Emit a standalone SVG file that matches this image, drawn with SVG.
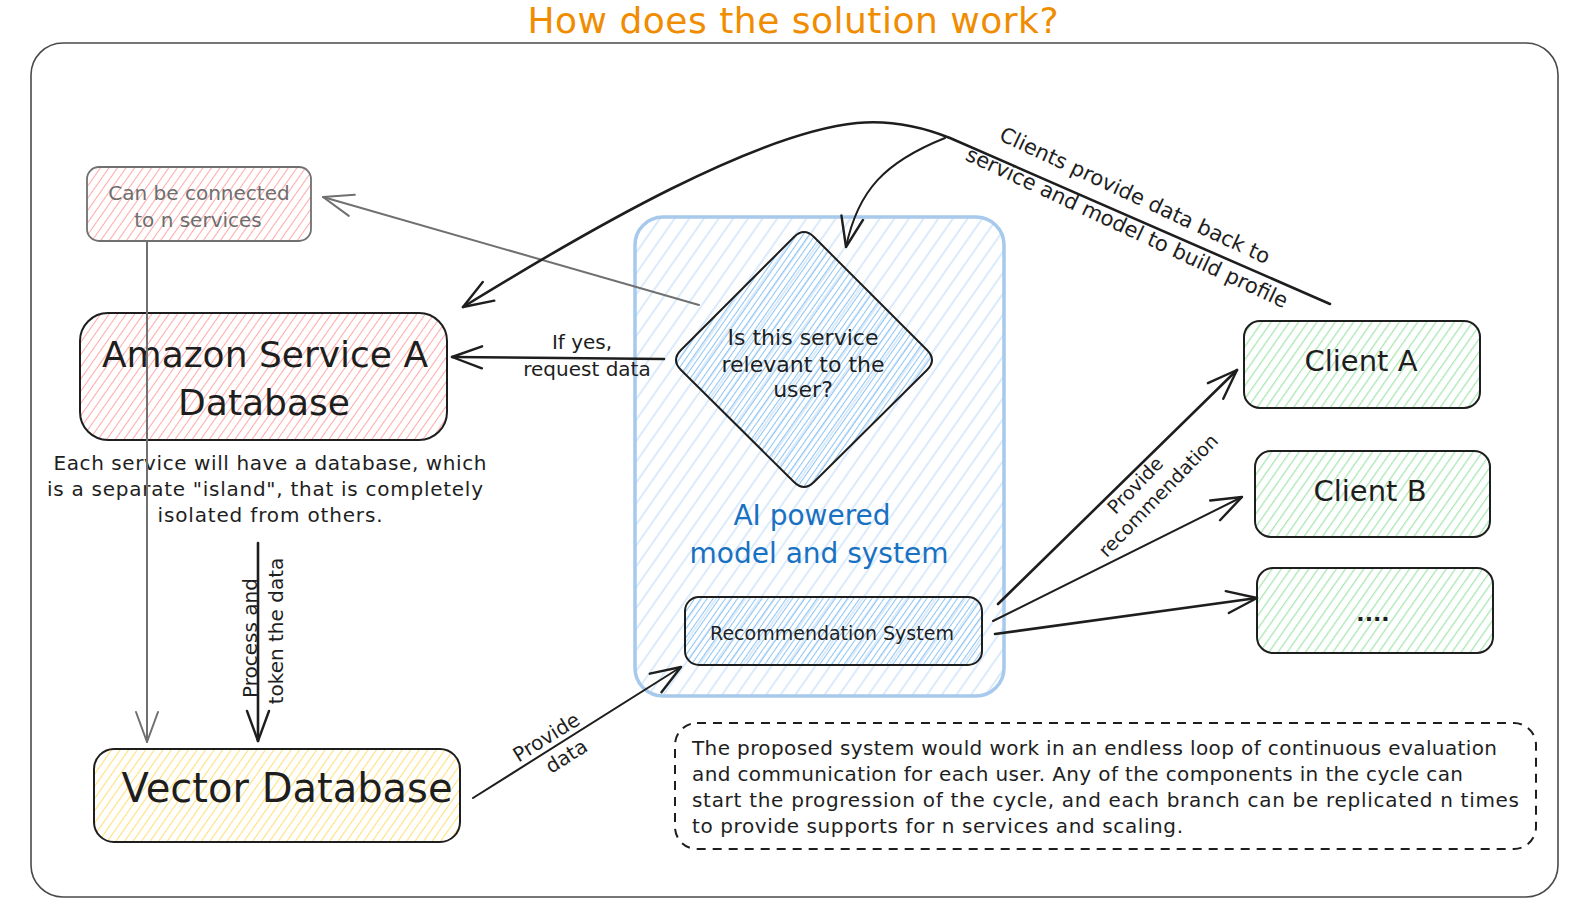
<svg xmlns="http://www.w3.org/2000/svg" width="1584" height="916" viewBox="0 0 1584 916">
<defs>
<style>
.t{font-family:"DejaVu Sans","Liberation Sans",sans-serif;fill:#1e1e1e}
.m{text-anchor:middle}
.title{fill:#f08c00}
.blue{fill:#1971c2}
.grayt{fill:#6e6e6e}
.box{stroke:#1e1e1e;stroke-width:2}
.conn{fill:none;stroke:#1e1e1e;stroke-width:2.6;stroke-linecap:round;stroke-linejoin:round}
.thin{stroke-width:2}
.gconn{fill:none;stroke:#707070;stroke-width:2;stroke-linecap:round}
</style>
<pattern id="hRed" patternUnits="userSpaceOnUse" width="7" height="10" patternTransform="rotate(35)"><line x1="3.5" y1="0" x2="3.5" y2="10" stroke="#ffabab" stroke-width="1.1"/></pattern>
<pattern id="hYel" patternUnits="userSpaceOnUse" width="7" height="10" patternTransform="rotate(35)"><line x1="3.5" y1="0" x2="3.5" y2="10" stroke="#ffe07a" stroke-width="1.1"/></pattern>
<pattern id="hGrn" patternUnits="userSpaceOnUse" width="7.5" height="10" patternTransform="rotate(35)"><line x1="3.5" y1="0" x2="3.5" y2="10" stroke="#9ae3a6" stroke-width="1.1"/></pattern>
<pattern id="hBlueL" patternUnits="userSpaceOnUse" width="12" height="10" patternTransform="rotate(35)"><line x1="6" y1="0" x2="6" y2="10" stroke="#bcdaf7" stroke-width="1.1"/></pattern>
<pattern id="hBlueD" patternUnits="userSpaceOnUse" width="5" height="10" patternTransform="rotate(35)"><line x1="2.5" y1="0" x2="2.5" y2="10" stroke="#8fc5f2" stroke-width="1"/></pattern>
<marker id="ah" viewBox="-34 -14 38 28" refX="0" refY="0" markerWidth="38" markerHeight="28" markerUnits="userSpaceOnUse" orient="auto"><path d="M-30,-11 L0,0 L-30,11" fill="none" stroke="#1e1e1e" stroke-width="2.4" stroke-linecap="round" stroke-linejoin="round"/></marker>
<marker id="ahg" viewBox="-34 -14 38 28" refX="0" refY="0" markerWidth="38" markerHeight="28" markerUnits="userSpaceOnUse" orient="auto"><path d="M-30,-11 L0,0 L-30,11" fill="none" stroke="#707070" stroke-width="2" stroke-linecap="round" stroke-linejoin="round"/></marker>
</defs>
<rect x="0" y="0" width="1584" height="916" fill="#ffffff"/>

<g id="frame">
<rect x="31" y="43" width="1527" height="854" rx="32" fill="none" stroke="#4a4a4a" stroke-width="1.6"/>
</g>
<g id="title">
<text class="t title m" x="793" y="33" font-size="36" textLength="531">How does the solution work?</text>
</g>

<g id="ai-system">
<rect x="635" y="217" width="369" height="479" rx="28" fill="url(#hBlueL)" stroke="#a7c9ec" stroke-width="3.5"/>
<text class="t blue m" x="812" y="525" font-size="28">AI powered</text>
<text class="t blue m" x="819" y="563" font-size="28">model and system</text>
</g>

<g id="can-connect">
<rect x="87" y="167" width="224" height="74" rx="12" fill="url(#hRed)" stroke="#707070" stroke-width="1.8"/>
<text class="t grayt m" x="199" y="200" font-size="20">Can be connected</text>
<text class="t grayt m" x="198" y="227" font-size="20">to n services</text>
</g>

<g id="amazon-db">
<rect class="box" x="80" y="313" width="367" height="127" rx="28" fill="url(#hRed)"/>
<text class="t m" x="265" y="367" font-size="36">Amazon Service A</text>
<text class="t m" x="264" y="415" font-size="36">Database</text>
</g>

<g id="db-note">
<text class="t m" x="270" y="470" font-size="20" textLength="433">Each service will have a database, which</text>
<text class="t m" x="265" y="496" font-size="20" textLength="436">is a separate "island", that is completely</text>
<text class="t m" x="270" y="522" font-size="20" textLength="225">isolated from others.</text>
</g>

<g id="vector-db">
<rect class="box" x="94" y="749" width="366" height="93" rx="20" fill="url(#hYel)"/>
<text class="t m" x="287" y="802" font-size="40">Vector Database</text>
</g>

<g id="decision">
<path class="box" d="M814,237 L927,350 Q937,360 927,370 L814,482 Q804,492 794,482 L681,370 Q671,360 681,350 L794,237 Q804,227 814,237 Z" fill="url(#hBlueD)"/>
<text class="t m" x="803" y="345" font-size="22">Is this service</text>
<text class="t m" x="803" y="372" font-size="22">relevant to the</text>
<text class="t m" x="803" y="397" font-size="22">user?</text>
</g>

<g id="recommendation">
<rect class="box" x="685" y="597" width="297" height="68" rx="14" fill="url(#hBlueD)"/>
<text class="t m" x="832" y="640" font-size="19">Recommendation System</text>
</g>

<g id="client-a">
<rect class="box" x="1244" y="321" width="236" height="87" rx="16" fill="url(#hGrn)"/>
<text class="t m" x="1361" y="371" font-size="29">Client A</text>
</g>
<g id="client-b">
<rect class="box" x="1255" y="451" width="235" height="86" rx="16" fill="url(#hGrn)"/>
<text class="t m" x="1370" y="501" font-size="29">Client B</text>
</g>
<g id="client-more">
<rect class="box" x="1257" y="568" width="236" height="85" rx="16" fill="url(#hGrn)"/>
<text class="t m" x="1373" y="621" font-size="22" font-weight="bold">....</text>
</g>

<g id="note">
<rect x="675" y="723" width="861" height="126" rx="22" fill="none" stroke="#1e1e1e" stroke-width="2" stroke-dasharray="9 7"/>
<text class="t" x="692" y="755" font-size="20" textLength="805">The proposed system would work in an endless loop of continuous evaluation</text>
<text class="t" x="692" y="781" font-size="20" textLength="771">and communication for each user. Any of the components in the cycle can</text>
<text class="t" x="692" y="807" font-size="20" textLength="827">start the progression of the cycle, and each branch can be replicated n times</text>
<text class="t" x="692" y="833" font-size="20" textLength="491">to provide supports for n services and scaling.</text>
</g>

<g id="connectors">
<path class="gconn" d="M699,305 L323,197" marker-end="url(#ahg)"/>
<path class="gconn" d="M147,242 L147,742" marker-end="url(#ahg)"/>
<path class="conn" d="M664,359 L452,357" marker-end="url(#ah)"/>
<text class="t m" x="582" y="349" font-size="20">If yes,</text>
<text class="t m" x="587" y="376" font-size="20">request data</text>
<path class="conn" d="M258,543 L258,741" marker-end="url(#ah)"/>
<text class="t m" x="257" y="638" font-size="20" transform="rotate(-90 257 638)">Process and</text>
<text class="t m" x="283" y="631" font-size="20" transform="rotate(-90 283 631)">token the data</text>
<path class="conn thin" d="M473,798 L681,667" marker-end="url(#ah)"/>
<text class="t m" x="550" y="743" font-size="20" transform="rotate(-32 550 743)">Provide</text>
<text class="t m" x="570" y="762" font-size="20" transform="rotate(-32 570 762)">data</text>
<path class="conn" d="M1330,304 L950,138 C920,126 890,120 857,123 C757,133 593,227 463,307" marker-end="url(#ah)"/>
<path class="conn thin" d="M945,138 C885,162 858,190 846,247" marker-end="url(#ah)"/>
<text class="t m" x="1132" y="202" font-size="21" transform="rotate(25 1132 202)">Clients provide data back to</text>
<text class="t m" x="1124" y="234" font-size="21" transform="rotate(25 1124 234)">service and model to build profile</text>
<path class="conn" d="M998,604 L1237,370" marker-end="url(#ah)"/>
<path class="conn thin" d="M993,621 L1242,497" marker-end="url(#ah)"/>
<path class="conn" d="M995,634 L1257,598" marker-end="url(#ah)"/>
<text class="t m" x="1140" y="490" font-size="19" transform="rotate(-46 1140 490)">Provide</text>
<text class="t m" x="1163" y="500" font-size="19" transform="rotate(-46 1163 500)">recommendation</text>
</g>
</svg>
